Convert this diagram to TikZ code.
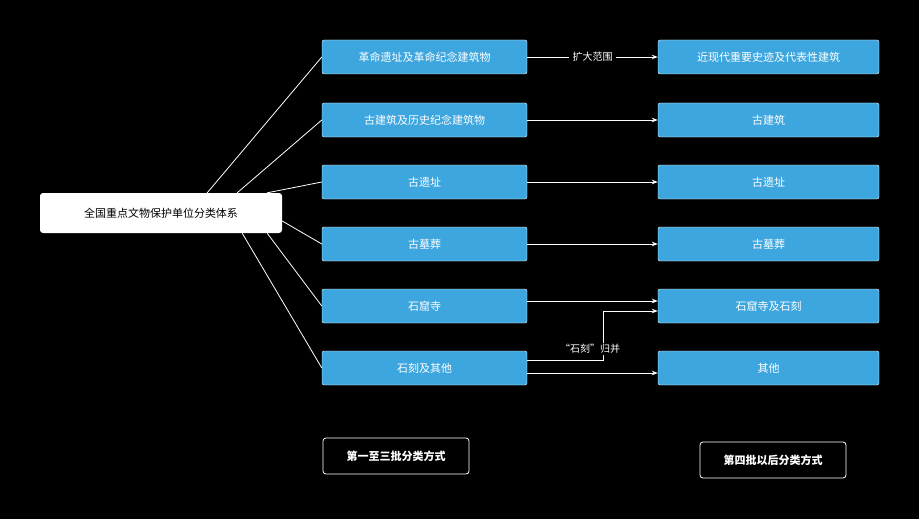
\documentclass[tikz,border=0pt]{standalone}
\usepackage{fontspec}
\setmainfont{Noto Sans CJK SC}
\usetikzlibrary{arrows.meta,calc}
\definecolor{boxblue}{HTML}{3DA6DE}
\begin{document}
\begin{tikzpicture}[x=1pt,y=-1pt,
    catbox/.style={draw=white, fill=boxblue, rounded corners=2pt, text=white,
            minimum width=205pt, minimum height=34pt, font=\fontsize{11}{13}\selectfont},
    newbox/.style={catbox, minimum width=221pt},
    rootbox/.style={fill=white, rounded corners=3pt, minimum width=242pt, minimum height=40pt,
            font=\fontsize{11}{13}\selectfont},
    tagbox/.style={draw=white, fill=black, text=white, rounded corners=3pt, thick,
            minimum width=146pt, minimum height=36pt, font=\bfseries\fontsize{11}{13}\selectfont},
    fan/.style={white, thick},
    link/.style={white, thick, -{Stealth[length=6pt]}}]
    \fill[black] (0,0) rectangle (919,519);
    \useasboundingbox (0,0) rectangle (919,519);

    \node[rootbox] (root) at (161,213) {全国重点文物保护单位分类体系};

    \node[catbox] (a1) at (424.5,57) {革命遗址及革命纪念建筑物};
    \node[catbox] (a2) at (424.5,120) {古建筑及历史纪念建筑物};
    \node[catbox] (a3) at (424.5,182) {古遗址};
    \node[catbox] (a4) at (424.5,244) {古墓葬};
    \node[catbox] (a5) at (424.5,306) {石窟寺};
    \node[catbox] (a6) at (424.5,368) {石刻及其他};

    \node[newbox] (b1) at (768.5,57) {近现代重要史迹及代表性建筑};
    \node[newbox] (b2) at (768.5,120) {古建筑};
    \node[newbox] (b3) at (768.5,182) {古遗址};
    \node[newbox] (b4) at (768.5,244) {古墓葬};
    \node[newbox] (b5) at (768.5,306) {石窟寺及石刻};
    \node[newbox] (b6) at (768.5,368) {其他};

    \node[tagbox] (t1) at (396,456) {第一至三批分类方式};
    \node[tagbox] (t2) at (773,460) {第四批以后分类方式};

    % fan from the root
    \draw[fan] ($(root.north east)+(-75,0)$) -- (a1.west);
    \draw[fan] ($(root.north east)+(-45,0)$) -- (a2.west);
    \draw[fan] ($(root.north east)+(-15,0)$) -- (a3.west);
    \draw[fan] ($(root.east)+(0,8)$) -- (a4.west);
    \draw[fan] ($(root.south east)+(-15,0)$) -- (a5.west);
    \draw[fan] ($(root.south east)+(-40,0)$) -- (a6.west);

    % old to new
    \draw[link] (a1.east) -- node[fill=black, text=white, font=\fontsize{10}{12}\selectfont]{扩大范围} (b1.west);
    \draw[link] (a2.east) -- (b2.west);
    \draw[link] (a3.east) -- (b3.west);
    \draw[link] (a4.east) -- (b4.west);
    \draw[link] ($(a5.east)+(0,-5)$) -- ($(b5.west)+(0,-5)$);
    \coordinate (turn) at ($(a6.east)+(76,-8)$);
    \draw[link] ($(a6.east)+(0,-8)$) -- (turn) |- ($(b5.west)+(0,5)$);
    \draw[link] ($(a6.east)+(0,5)$) -- ($(b6.west)+(0,5)$);
    \node[fill=black, text=white, inner sep=1pt, font=\fontsize{10}{12}\selectfont] (merge) at (590,349) {“石刻”归并};
\end{tikzpicture}
\end{document}
